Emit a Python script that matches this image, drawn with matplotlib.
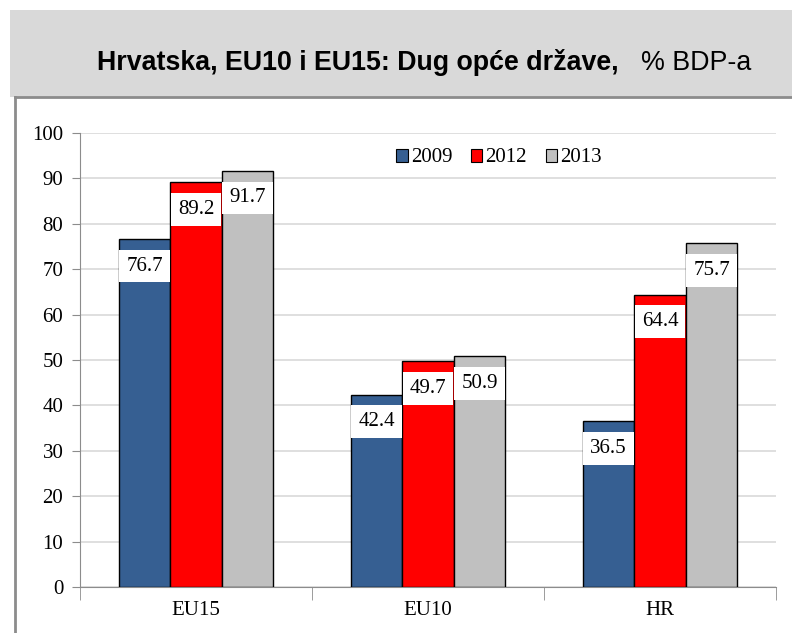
import numpy as np
import matplotlib
matplotlib.use('Agg')
import matplotlib.pyplot as plt
from matplotlib.patches import Rectangle, Patch

categories = ['EU15', 'EU10', 'HR']
years = ['2009', '2012', '2013']
debt_2009 = [76.7, 42.4, 36.5]
debt_2012 = [89.2, 49.7, 64.4]
debt_2013 = [91.7, 50.9, 75.7]
colors = ['#365f92', '#ff0000', '#c0c0c0']

serif = 'Liberation Serif'
sans = 'Liberation Sans'

fig = plt.figure(figsize=(7.92, 6.33), dpi=100)
W, H = 792.0, 633.0

# grey header band and framed panel
fig.patches.append(Rectangle((10 / W, 1 - 97 / H), 1 - 10 / W, 87 / H,
                             transform=fig.transFigure, facecolor='#d9d9d9',
                             edgecolor='none', zorder=0))
fig.add_artist(plt.Line2D([15 / W, 1], [1 - 97 / H, 1 - 97 / H], transform=fig.transFigure,
                          color='#8c8c8c', lw=2))
fig.add_artist(plt.Line2D([15 / W, 15 / W], [0, 1 - 97 / H], transform=fig.transFigure,
                          color='#8c8c8c', lw=2))

fig.text(97 / W, 1 - 63 / H, 'Hrvatska, EU10 i EU15: Dug opće države,', family=sans,
         fontweight='bold', fontsize=19.3, ha='left', va='center')
fig.text(641 / W, 1 - 63 / H, '% BDP-a', family=sans, fontsize=19.3, ha='left', va='center')

ax = fig.add_axes([80 / W, 1 - 587 / H, 696 / W, 454 / H])

x = np.arange(len(categories))
width = 0.222
series = [debt_2009, debt_2012, debt_2013]
for i, (vals, c, yr) in enumerate(zip(series, colors, years)):
    pos = x + (i - 1) * width
    ax.bar(pos, vals, width, color=c, edgecolor='black', linewidth=1, label=yr, zorder=3)
    for px, v in zip(pos, vals):
        ax.text(px, v - 6, '%.1f' % v, family=serif, fontsize=15, ha='center', va='center',
                zorder=4, bbox=dict(boxstyle='square,pad=0.33', facecolor='white', edgecolor='none'))

ax.set_ylim(0, 100)
ax.set_xlim(-0.5, 2.5)
ax.set_yticks(np.arange(0, 101, 10))
ax.yaxis.grid(True, color='#d9d9d9', lw=1.2, zorder=0)
ax.set_axisbelow(True)

ax.set_xticks(x)
ax.set_xticklabels(categories, family=serif, fontsize=15)
ax.tick_params(axis='x', which='major', length=0, pad=10)
ax.set_xticks([-0.5, 0.5, 1.5, 2.5], minor=True)
ax.tick_params(axis='x', which='minor', length=9, color='#8c8c8c')
ax.tick_params(axis='y', length=6, color='#8c8c8c', labelsize=15, pad=6)
for lab in ax.get_yticklabels():
    lab.set_family(serif)

for s in ['top', 'right']:
    ax.spines[s].set_visible(False)
for s in ['left', 'bottom']:
    ax.spines[s].set_color('#8c8c8c')

handles = [Patch(facecolor=c, edgecolor='black', lw=0.8) for c in colors]
fig.legend(handles, years, loc='center', bbox_to_anchor=(499 / W, 1 - 158 / H), ncol=3,
           frameon=False, prop={'family': serif, 'size': 15}, handlelength=0.55,
           handleheight=0.6, handletextpad=0.15, columnspacing=0.9)

fig.savefig('out.png', dpi=100)
